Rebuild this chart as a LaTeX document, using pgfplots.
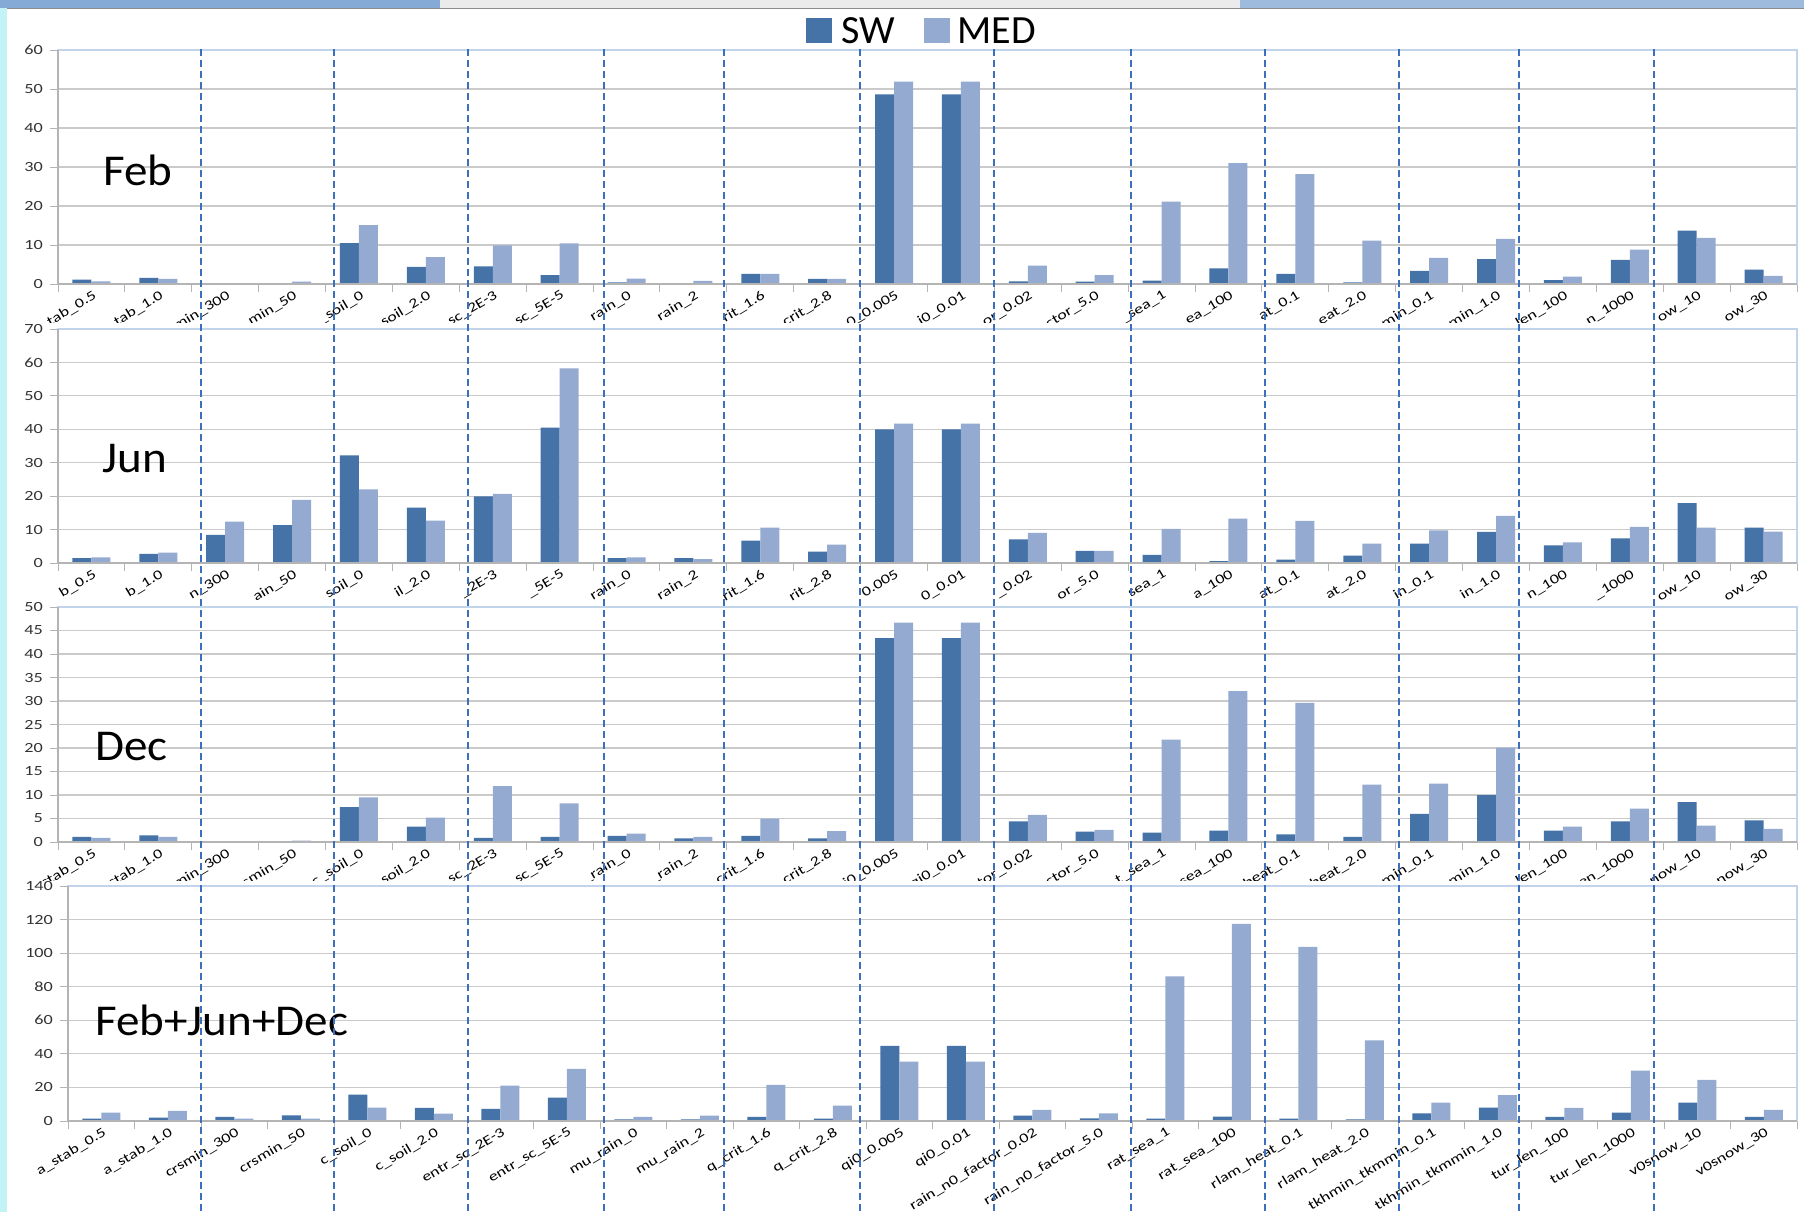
\documentclass[border=0pt]{standalone}
\usepackage{fontspec}
\setmainfont{Carlito}
\newfontfamily\wide[FakeStretch=1.3]{Carlito}
\newfontfamily\namefont[FakeStretch=1.07]{Carlito}
\usepackage{pgfplots}
\pgfplotsset{compat=1.18}
\usepackage{pgfplotstable}

\definecolor{swc}{HTML}{4572A7}
\definecolor{medc}{HTML}{95AAD1}
\definecolor{gridc}{HTML}{CACACA}
\definecolor{axc}{HTML}{B4B4B4}
\definecolor{boxc}{HTML}{C2D4EA}
\definecolor{sepc}{HTML}{3D6FBF}
\definecolor{stripc}{HTML}{C4F3F6}
\definecolor{topc}{HTML}{86AAD6}

% columns: category index, SW, MED
\pgfplotstableread{
x sw med
0 1.1 0.7
1 1.6 1.3
2 0.2 0.2
3 0.2 0.6
4 10.5 15.1
5 4.4 6.9
6 4.5 9.9
7 2.3 10.4
8 0.4 1.4
9 0.2 0.8
10 2.6 2.6
11 1.3 1.3
12 48.6 51.9
13 48.6 51.9
14 0.7 4.7
15 0.6 2.3
16 0.9 21.1
17 4.0 31.0
18 2.6 28.2
19 0.4 11.1
20 3.4 6.7
21 6.4 11.6
22 1.0 1.9
23 6.2 8.8
24 13.7 11.8
25 3.7 2.1
}\feb

\pgfplotstableread{
x sw med
0 1.5 1.7
1 2.7 3.1
2 8.4 12.4
3 11.3 18.9
4 32.2 22.0
5 16.6 12.7
6 19.9 20.7
7 40.5 58.2
8 1.5 1.7
9 1.5 1.2
10 6.7 10.6
11 3.4 5.5
12 40.0 41.7
13 40.0 41.7
14 7.1 9.0
15 3.6 3.6
16 2.4 10.2
17 0.6 13.3
18 1.0 12.6
19 2.2 5.8
20 5.8 9.8
21 9.3 14.1
22 5.3 6.2
23 7.4 10.8
24 17.9 10.6
25 10.6 9.4
}\jun

\pgfplotstableread{
x sw med
0 1.1 0.9
1 1.4 1.1
2 0.0 0.0
3 0.2 0.3
4 7.4 9.5
5 3.3 5.2
6 0.9 11.9
7 1.1 8.2
8 1.3 1.8
9 0.8 1.1
10 1.3 5.0
11 0.8 2.3
12 43.4 46.7
13 43.4 46.7
14 4.4 5.8
15 2.2 2.6
16 2.0 21.8
17 2.4 32.1
18 1.6 29.6
19 1.1 12.2
20 6.0 12.4
21 10.0 20.1
22 2.4 3.3
23 4.4 7.1
24 8.5 3.5
25 4.6 2.8
}\dec

\pgfplotstableread{
x sw med
0 1.4 5.0
1 2.0 6.0
2 2.4 1.4
3 3.4 1.4
4 15.7 8.0
5 7.8 4.4
6 7.2 21.1
7 13.9 31.0
8 1.0 2.4
9 1.0 3.2
10 2.4 21.5
11 1.4 9.1
12 44.7 35.4
13 44.7 35.4
14 3.2 6.6
15 1.6 4.6
16 1.4 86.1
17 2.6 117.5
18 1.4 103.8
19 1.0 48.1
20 4.6 10.9
21 8.0 15.5
22 2.4 7.8
23 5.0 30.0
24 10.9 24.5
25 2.4 6.6
}\all

\pgfplotsset{
  panel/.style={
    scale only axis, anchor=south west,
    width=869.5pt, height=117pt,
    ybar=0pt, bar width=9.5pt,
    xmin=-0.5, xmax=25.5, ymin=0,
    enlargelimits=false,
    xtick={-0.5,0.5,...,25.5}, xticklabels={},
    extra x ticks={0,...,25},
    extra x tick labels={a\_stab\_0.5, a\_stab\_1.0, crsmin\_300, crsmin\_50,
      c\_soil\_0, c\_soil\_2.0, entr\_sc\_2E-3, entr\_sc\_5E-5, mu\_rain\_0,
      mu\_rain\_2, q\_crit\_1.6, q\_crit\_2.8, qi0\_0.005, qi0\_0.01,
      rain\_n0\_factor\_0.02, rain\_n0\_factor\_5.0, rat\_sea\_1, rat\_sea\_100,
      rlam\_heat\_0.1, rlam\_heat\_2.0, tkhmin\_tkmmin\_0.1, tkhmin\_tkmmin\_1.0,
      tur\_len\_100, tur\_len\_1000, v0snow\_10, v0snow\_30},
    extra x tick style={major tick length=0pt, grid=none,
      xticklabel style={rotate=31, anchor=north east, inner sep=1pt, yshift=-1.5pt,
        font=\wide\fontsize{6.8}{8}\selectfont}},
    xtick pos=left, ytick pos=left,
    tick align=outside, major tick length=4pt,
    tick style={draw=axc, line width=0.5pt},
    ymajorgrids, major grid style={draw=gridc, line width=0.6pt},
    axis line style={draw=boxc, line width=0.6pt},
    yticklabel style={font=\wide\fontsize{7}{8}\selectfont, text=black!80},
    /pgf/number format/assume math mode=true,
    clip=false,
  },
  swbar/.style={fill=swc, draw=none},
  medbar/.style={fill=medc, draw=none},
}

\newcommand{\grayaxes}{%
  \draw[axc, line width=0.6pt] (rel axis cs:0,1) -- (rel axis cs:0,0) -- (rel axis cs:1,0);}

\begin{document}
\begin{tikzpicture}
% page, window border strips
\fill[white] (0,0) rectangle (902pt,-606pt);
\fill[topc] (0,0) rectangle (220pt,-4pt);
\fill[black!8] (220pt,0) rectangle (620pt,-4pt);
\fill[topc!80] (620pt,0) rectangle (902pt,-4pt);
\draw[black!45, line width=0.5pt] (0,-4pt) -- (902pt,-4pt);
\fill[stripc] (0,-4pt) rectangle (3.5pt,-606pt);

% Feb (labels cut by the panel below, as in the original)
\begin{axis}[panel, at={(29pt,-142pt)}, ymax=60, ytick={0,10,...,60},
  extra x tick labels={tab\_0.5, tab\_1.0, min\_300, min\_50, \_soil\_0, soil\_2.0,
    sc\_2E-3, sc\_5E-5, rain\_0, rain\_2, rit\_1.6, crit\_2.8, 0\_0.005, i0\_0.01,
    or\_0.02, ctor\_5.0, \_sea\_1, ea\_100, at\_0.1, eat\_2.0, min\_0.1, min\_1.0,
    len\_100, n\_1000, ow\_10, ow\_30}]
\addplot[swbar] table[x=x, y=sw] {\feb};
\addplot[medbar] table[x=x, y=med] {\feb};
\grayaxes
\end{axis}

\fill[white] (3.5pt,-161.5pt) rectangle (902pt,-606pt);
% Jun
\begin{axis}[panel, at={(29pt,-281.5pt)}, ymax=70, ytick={0,10,...,70},
  extra x tick labels={b\_0.5, b\_1.0, n\_300, ain\_50, soil\_0, il\_2.0,
    \_2E-3, \_5E-5, rain\_0, rain\_2, rit\_1.6, rit\_2.8, 0.005, 0\_0.01,
    \_0.02, or\_5.0, sea\_1, a\_100, at\_0.1, at\_2.0, in\_0.1, in\_1.0,
    n\_100, \_1000, ow\_10, ow\_30}]
\addplot[swbar] table[x=x, y=sw] {\jun};
\addplot[medbar] table[x=x, y=med] {\jun};
\grayaxes
\end{axis}

\fill[white] (3.5pt,-300.5pt) rectangle (902pt,-606pt);
% Dec
\begin{axis}[panel, at={(29pt,-421pt)}, height=117.5pt, ymax=50, ytick={0,5,...,50},
  extra x tick labels={stab\_0.5, stab\_1.0, min\_300, smin\_50, c\_soil\_0, soil\_2.0,
    sc\_2E-3, sc\_5E-5, \_rain\_0, \_rain\_2, crit\_1.6, crit\_2.8, i0\_0.005, qi0\_0.01,
    tor\_0.02, ctor\_5.0, t\_sea\_1, sea\_100, heat\_0.1, heat\_2.0, min\_0.1, min\_1.0,
    len\_100, en\_1000, now\_10, now\_30}]
\addplot[swbar] table[x=x, y=sw] {\dec};
\addplot[medbar] table[x=x, y=med] {\dec};
\grayaxes
\end{axis}

\fill[white] (3.5pt,-440.5pt) rectangle (902pt,-606pt);
% Feb+Jun+Dec
\begin{axis}[panel, at={(34pt,-560.5pt)}, width=864.5pt, height=117.5pt,
  ymax=140, ytick={0,20,...,140}]
\addplot[swbar] table[x=x, y=sw] {\all};
\addplot[medbar] table[x=x, y=med] {\all};
\grayaxes
\pgfplotsinvokeforeach{1,...,12}{\coordinate (s#1) at (axis cs:{2*#1-0.5},0);}
\end{axis}

% panel names
\node[anchor=base west, inner sep=0pt, font=\namefont\fontsize{22}{24}\selectfont] at (51.5pt,-92.5pt) {Feb};
\node[anchor=base west, inner sep=0pt, font=\namefont\fontsize{22}{24}\selectfont] at (51pt,-236pt) {Jun};
\node[anchor=base west, inner sep=0pt, font=\namefont\fontsize{22}{24}\selectfont] at (47.5pt,-380pt) {Dec};
\node[anchor=base west, inner sep=0pt, font=\namefont\fontsize{22}{24}\selectfont] at (47.5pt,-517.5pt) {Feb+Jun+Dec};

% legend
\fill[swc] (403pt,-9pt) rectangle (416pt,-21.5pt);
\node[anchor=base west, inner sep=0pt, font=\fontsize{20}{22}\selectfont] at (420.5pt,-21.5pt) {SW};
\fill[medc] (462pt,-9pt) rectangle (475pt,-21.5pt);
\node[anchor=base west, inner sep=0pt, font=\fontsize{20}{22}\selectfont] at (478.5pt,-21.5pt) {MED};

% hand-drawn separators between parameter pairs
\foreach \i/\o in {1/0,2/0,3/0.5,4/1.75,5/-4.7,6/-3.15,7/-2.5,8/-0.5,9/0,10/0.5,11/-6,12/-5}
  \draw[sepc, line width=1pt, dash pattern=on 3.5pt off 2pt]
    ([xshift=\o pt]s\i |- 0,-24.5pt) -- ([xshift=\o pt]s\i |- 0,-606pt);

\pgfresetboundingbox
\path (0,0) rectangle (902pt,-606pt);
\end{tikzpicture}
\end{document}
